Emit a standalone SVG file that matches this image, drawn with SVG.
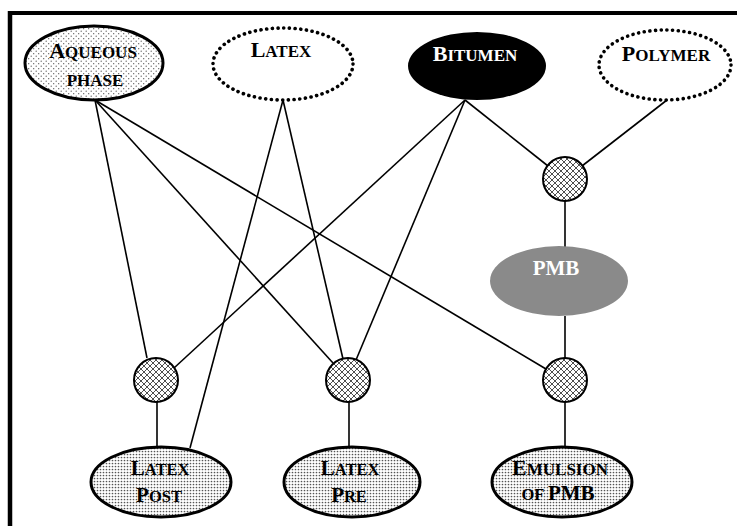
<svg xmlns="http://www.w3.org/2000/svg" width="737" height="526" viewBox="0 0 737 526">
<style>
.t{font-family:"Liberation Serif","Times New Roman",serif;font-weight:bold;text-anchor:middle;fill:#000}
.w{fill:#fff}
.b{font-size:22px}
.s{font-size:17px}
.b2{font-size:21px}
.s2{font-size:16.5px}
.edge{stroke:#000;stroke-width:1.6;fill:none}
.solid{stroke:#000;stroke-width:3}
.dotted{fill:#fff;stroke:#000;stroke-width:3.6;stroke-dasharray:0.1 5.6;stroke-linecap:round}
.hub{fill:url(#hatch);stroke:#000;stroke-width:2}
</style>
<defs>
<pattern id="dotsLight" width="5" height="5" patternUnits="userSpaceOnUse">
<rect width="5" height="5" fill="#fff"/>
<circle cx="1.2" cy="1.2" r="0.65" fill="#555"/>
<circle cx="3.7" cy="3.7" r="0.65" fill="#555"/>
</pattern>
<pattern id="dotsDense" width="3" height="3" patternUnits="userSpaceOnUse">
<rect width="3" height="3" fill="#fff"/>
<circle cx="1.5" cy="1.5" r="0.85" fill="#555"/>
</pattern>
<pattern id="hatch" width="6" height="6" patternUnits="userSpaceOnUse">
<rect width="6" height="6" fill="#fff"/>
<path d="M0,0 L6,6 M6,0 L0,6" stroke="#222" stroke-width="0.8"/>
</pattern>
</defs>

<g id="frame">
<line x1="8" y1="13" x2="737" y2="13" stroke="#000" stroke-width="4"/>
<line x1="10" y1="11" x2="10" y2="526" stroke="#000" stroke-width="4.5"/>
</g>

<g id="connectors">
<line class="edge" x1="95" y1="100" x2="147" y2="358"/>
<line class="edge" x1="95" y1="100" x2="333" y2="363"/>
<line class="edge" x1="95" y1="100" x2="546" y2="369"/>
<line class="edge" x1="283" y1="100" x2="190" y2="448"/>
<line class="edge" x1="283" y1="100" x2="343" y2="359"/>
<line class="edge" x1="465" y1="100" x2="174" y2="368"/>
<line class="edge" x1="465" y1="100" x2="356" y2="360"/>
<line class="edge" x1="465" y1="100" x2="548" y2="166"/>
<line class="edge" x1="667" y1="100" x2="582" y2="166"/>
<line class="edge" x1="565" y1="201" x2="565" y2="247"/>
<line class="edge" x1="565" y1="316" x2="565" y2="358"/>
<line class="edge" x1="565" y1="402" x2="565" y2="447"/>
<line class="edge" x1="157" y1="402" x2="157" y2="448"/>
<line class="edge" x1="349" y1="402" x2="349" y2="448"/>
</g>

<g id="aqueous">
<ellipse cx="94" cy="63" rx="69" ry="37" fill="url(#dotsLight)" class="solid"/>
<text class="t" x="93" y="58"><tspan class="b">A</tspan><tspan class="s">QUEOUS</tspan></text>
<text class="t s" x="95" y="86">PHASE</text>
</g>

<g id="latex">
<ellipse cx="283" cy="64" rx="70" ry="36" class="dotted"/>
<text class="t" x="281" y="57"><tspan class="b">L</tspan><tspan class="s">ATEX</tspan></text>
</g>

<g id="bitumen">
<ellipse cx="477" cy="66" rx="69" ry="34" fill="#000"/>
<text class="t w" x="475" y="61"><tspan class="b">B</tspan><tspan class="s">ITUMEN</tspan></text>
</g>

<g id="polymer">
<ellipse cx="665" cy="65" rx="66" ry="35" class="dotted"/>
<text class="t" x="666" y="61"><tspan class="b">P</tspan><tspan class="s">OLYMER</tspan></text>
</g>

<g id="mixTop">
<circle cx="565" cy="179" r="22" class="hub"/>
</g>

<g id="pmb">
<ellipse cx="559" cy="281" rx="69" ry="35" fill="#8a8a8a"/>
<text class="t w b2" x="556" y="275">PMB</text>
</g>

<g id="mixPost">
<circle cx="156" cy="380" r="22" class="hub"/>
</g>

<g id="mixPre">
<circle cx="348" cy="380" r="22" class="hub"/>
</g>

<g id="mixEmul">
<circle cx="565" cy="380" r="22" class="hub"/>
</g>

<g id="latexPost">
<ellipse cx="161" cy="482" rx="70" ry="35" fill="url(#dotsDense)" class="solid"/>
<text class="t" x="160" y="475"><tspan class="b2">L</tspan><tspan class="s2">ATEX</tspan></text>
<text class="t" x="159" y="502"><tspan class="b2">P</tspan><tspan class="s2">OST</tspan></text>
</g>

<g id="latexPre">
<ellipse cx="352" cy="482" rx="68" ry="35" fill="url(#dotsDense)" class="solid"/>
<text class="t" x="350" y="475"><tspan class="b2">L</tspan><tspan class="s2">ATEX</tspan></text>
<text class="t" x="349" y="502"><tspan class="b2">P</tspan><tspan class="s2">RE</tspan></text>
</g>

<g id="emulsion">
<ellipse cx="562" cy="482" rx="70" ry="35" fill="url(#dotsDense)" class="solid"/>
<text class="t" x="560" y="475"><tspan class="b">E</tspan><tspan class="s">MULSION</tspan></text>
<text class="t" x="558" y="500"><tspan class="s2">OF </tspan><tspan class="b2">PMB</tspan></text>
</g>
</svg>
